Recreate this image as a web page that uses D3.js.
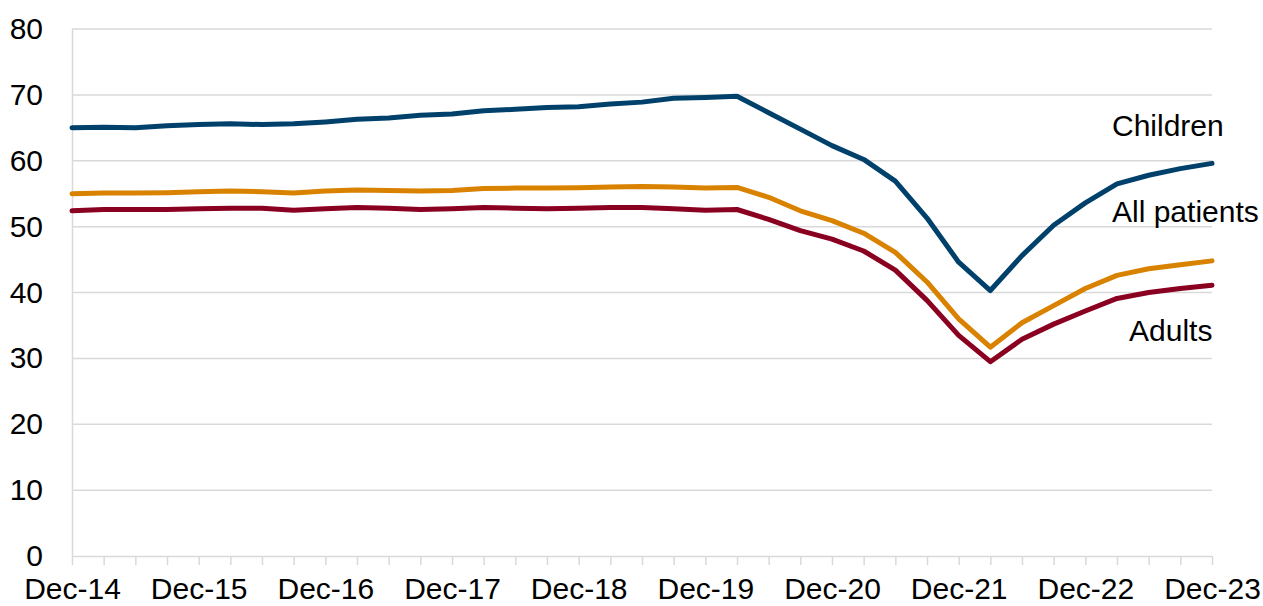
<!DOCTYPE html>
<html>
<head>
<meta charset="utf-8">
<script src="https://cdn.jsdelivr.net/npm/d3@7"></script>
<style>
  html, body { margin: 0; padding: 0; background: #fff; }
  svg { display: block; font-family: "Liberation Sans", Arial, sans-serif; }
</style>
</head>
<body>
<svg id="chart" width="1263" height="606"></svg>
<script>
// Quarterly periods Dec-14 .. Dec-23 (37 points)
const periods = ["Dec-14","Mar-15","Jun-15","Sep-15","Dec-15","Mar-16","Jun-16","Sep-16",
  "Dec-16","Mar-17","Jun-17","Sep-17","Dec-17","Mar-18","Jun-18","Sep-18",
  "Dec-18","Mar-19","Jun-19","Sep-19","Dec-19","Mar-20","Jun-20","Sep-20",
  "Dec-20","Mar-21","Jun-21","Sep-21","Dec-21","Mar-22","Jun-22","Sep-22",
  "Dec-22","Mar-23","Jun-23","Sep-23","Dec-23"];

const children = [65.0,65.1,65.0,65.3,65.5,65.6,65.5,65.6,65.9,66.3,66.5,66.9,67.1,67.6,67.8,68.1,
  68.2,68.6,68.9,69.5,69.6,69.8,67.3,64.8,62.3,60.2,56.9,51.3,44.6,40.3,45.6,50.2,53.6,56.5,57.8,58.8,59.6];
const allPatients = [55.0,55.1,55.1,55.15,55.3,55.4,55.3,55.1,55.4,55.55,55.5,55.4,55.5,55.8,55.85,55.85,
  55.9,56.0,56.1,56.0,55.85,55.95,54.45,52.4,50.9,49.0,46.1,41.6,36.0,31.7,35.4,38.0,40.6,42.6,43.6,44.2,44.8];
const adults = [52.4,52.6,52.6,52.6,52.7,52.8,52.8,52.5,52.7,52.9,52.8,52.6,52.7,52.9,52.8,52.7,
  52.8,52.9,52.9,52.7,52.5,52.6,51.1,49.4,48.1,46.3,43.4,38.8,33.5,29.5,32.9,35.2,37.2,39.1,40.0,40.6,41.1];

const yTicks = [0,10,20,30,40,50,60,70,80];
const xLabels = ["Dec-14","Dec-15","Dec-16","Dec-17","Dec-18","Dec-19","Dec-20","Dec-21","Dec-22","Dec-23"];

const seriesNames = ["Children","All patients","Adults"];
const seriesColors = ["#00416B","#D98200","#8A0020"];

const series = [
  {name: seriesNames[0], values: children, color: seriesColors[0], lx: 1112, ly: 135.5, anchor: "start"},
  {name: seriesNames[1], values: allPatients, color: seriesColors[1], lx: 1112, ly: 221.5, anchor: "start"},
  {name: seriesNames[2], values: adults, color: seriesColors[2], lx: 1129, ly: 340.5, anchor: "start"}
];

const svg = d3.select("#chart");
const mLeft = 72, mRight = 1212, mTop = 29, mBottom = 556;

const x = d3.scalePoint().domain(periods).range([mLeft, mRight]);
const y = d3.scaleLinear().domain([0, 80]).range([mBottom, mTop]);

const fontSize = 30;

// gridlines
svg.append("g").selectAll("line").data(yTicks.filter(d => d > 0)).join("line")
  .attr("x1", mLeft).attr("x2", mRight)
  .attr("y1", d => y(d)).attr("y2", d => y(d))
  .attr("stroke", "#d9d9d9").attr("stroke-width", 1.5);

// y axis
const yAxis = svg.append("g").attr("transform", `translate(${mLeft},0)`)
  .call(d3.axisLeft(y).tickValues(yTicks).tickSize(0).tickPadding(29));
yAxis.select(".domain").attr("stroke", "#d9d9d9").attr("stroke-width", 1.5);
yAxis.selectAll("text").attr("font-size", fontSize).attr("fill", "#000")
  .attr("font-family", "Liberation Sans, Arial, sans-serif");

// x axis
const xAxis = svg.append("g").attr("transform", `translate(0,${mBottom})`)
  .call(d3.axisBottom(x).tickSize(9).tickPadding(13)
    .tickFormat(d => xLabels.includes(d) ? d : ""));
xAxis.select(".domain").attr("stroke", "#d9d9d9").attr("stroke-width", 1.5)
  .attr("d", `M${mLeft},0.5H${mRight}`);
xAxis.selectAll(".tick line").attr("stroke", "#d9d9d9").attr("stroke-width", 1.5);
xAxis.selectAll("text").attr("font-size", fontSize).attr("fill", "#000")
  .attr("font-family", "Liberation Sans, Arial, sans-serif");

// lines
const line = d3.line().x((d, i) => x(periods[i])).y(d => y(d));
svg.append("g").selectAll("path").data(series).join("path")
  .attr("d", d => line(d.values))
  .attr("fill", "none")
  .attr("stroke", d => d.color)
  .attr("stroke-width", 5)
  .attr("stroke-linejoin", "round")
  .attr("stroke-linecap", "round");

// labels
svg.append("g").selectAll("text").data(series).join("text")
  .attr("x", d => d.lx).attr("y", d => d.ly)
  .attr("text-anchor", d => d.anchor)
  .attr("font-size", fontSize).attr("fill", "#000")
  .text(d => d.name);
</script>
</body>
</html>
